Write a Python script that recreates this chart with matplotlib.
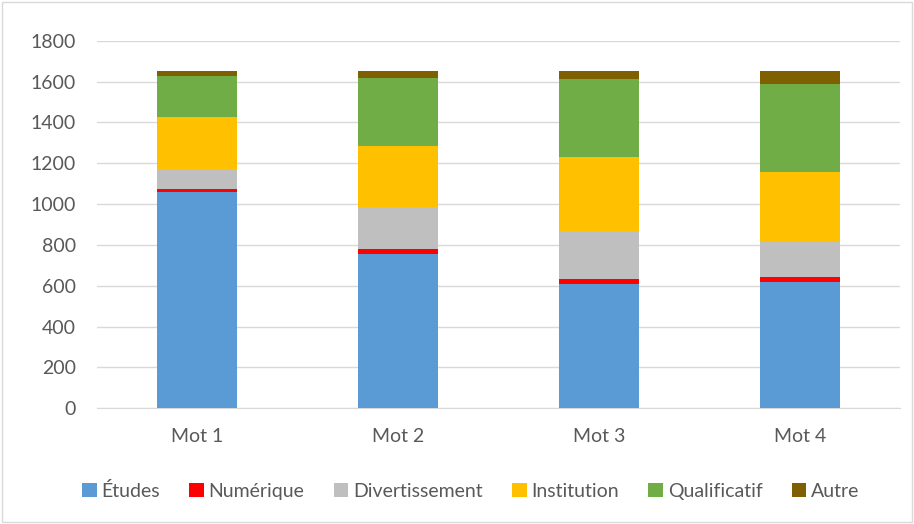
import numpy as np
import matplotlib.pyplot as plt
from matplotlib.patches import Rectangle

plt.rcParams["font.family"] = ["Lato", "DejaVu Sans"]

categories = ["Mot 1", "Mot 2", "Mot 3", "Mot 4"]
series_names = ["Études", "Numérique", "Divertissement", "Institution", "Qualificatif", "Autre"]
etudes = [1058, 757, 608, 620]
numerique = [18, 25, 25, 24]
divertissement = [98, 203, 235, 177]
institution = [255, 300, 365, 335]
qualificatif = [199, 335, 380, 433]
autre = [22, 30, 38, 61]
colors = ["#5B9BD5", "#FF0000", "#BFBFBF", "#FFC000", "#70AD47", "#7F6000"]

series = [etudes, numerique, divertissement, institution, qualificatif, autre]

fig = plt.figure(figsize=(9.14, 5.24), dpi=100)
ax = fig.add_axes([0.106, 0.221, 0.879, 0.701])

x = np.arange(len(categories))
bottom = np.zeros(len(categories))
for name, vals, c in zip(series_names, series, colors):
    ax.bar(x, vals, 0.4, bottom=bottom, color=c, label=name, zorder=3)
    bottom += np.array(vals)

ax.set_xlim(-0.5, 3.5)
ax.set_ylim(0, 1800)
ax.set_yticks(range(0, 1801, 200))
ax.set_xticks(x)
ax.set_xticklabels(categories)
ax.grid(axis="y", color="#D9D9D9", linewidth=1, zorder=0)
for s in ["top", "right", "left"]:
    ax.spines[s].set_visible(False)
ax.spines["bottom"].set_color("#D9D9D9")
ax.tick_params(axis="both", length=0, labelsize=14, colors="#595959")
ax.tick_params(axis="y", pad=15)
ax.tick_params(axis="x", pad=14)

handles, labels = ax.get_legend_handles_labels()
fig.legend(handles, labels, loc="center", bbox_to_anchor=(0.515, 0.063), ncol=6,
           frameon=False, fontsize=14, handlelength=0.75, handleheight=0.75,
           handletextpad=0.25, columnspacing=1.5, labelcolor="#595959")

fig.add_artist(Rectangle((0.002, 0.003), 0.996, 0.994, transform=fig.transFigure,
                         fill=False, edgecolor="#D9D9D9", linewidth=1))

fig.savefig("out.png", dpi=100)
